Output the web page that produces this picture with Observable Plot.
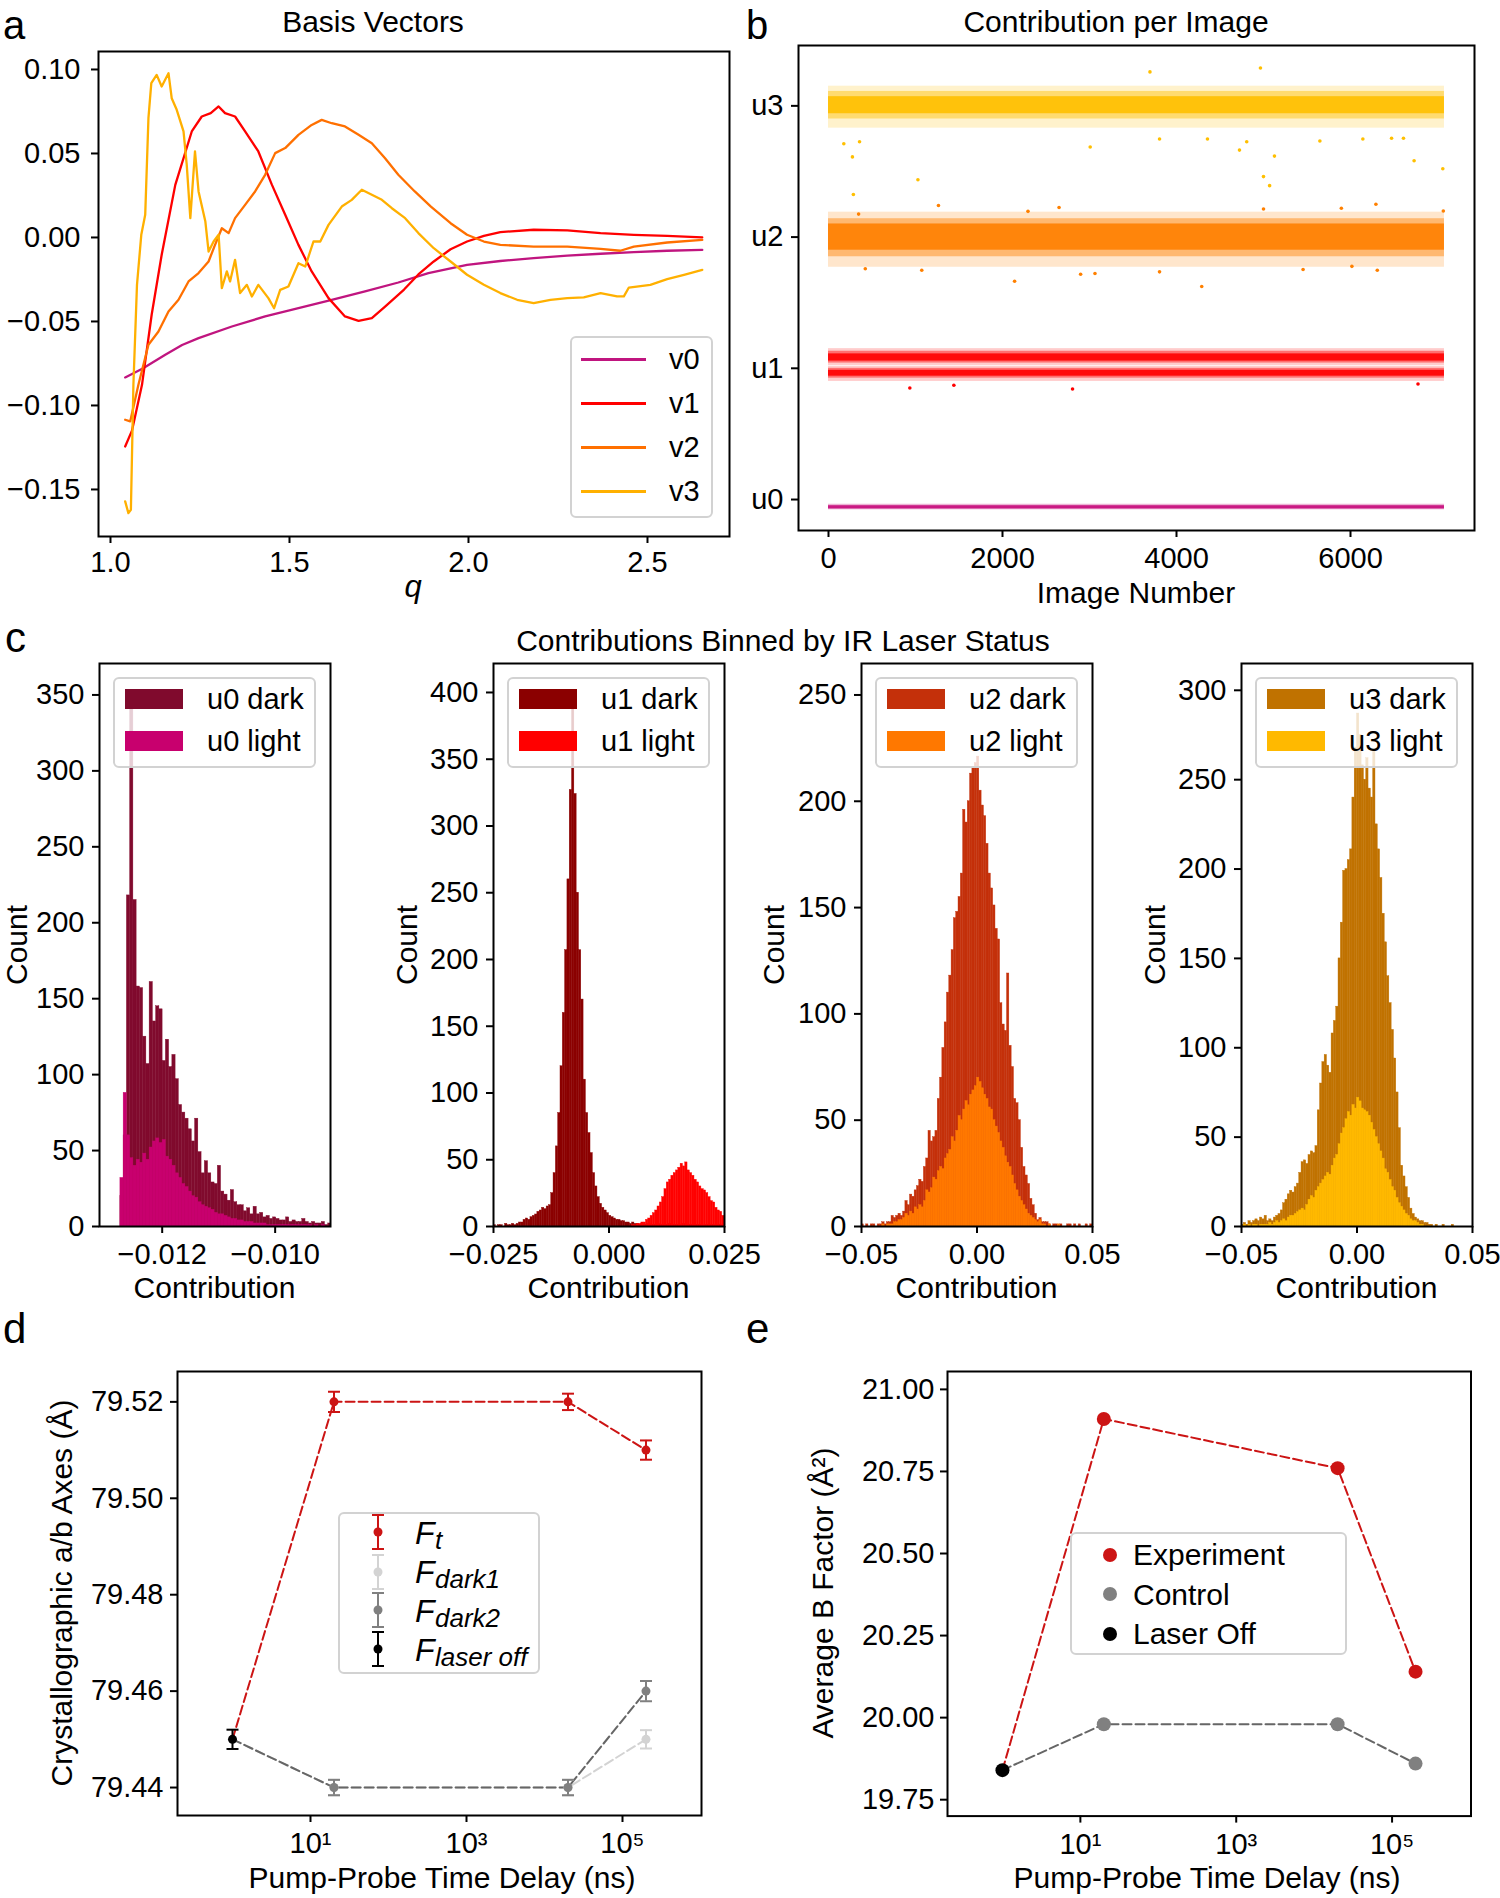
<!DOCTYPE html>
<html><head><meta charset="utf-8">
<script src="https://cdn.jsdelivr.net/npm/d3@7"></script>
<script src="https://cdn.jsdelivr.net/npm/@observablehq/plot@0.6"></script>
<style>
html,body{margin:0;padding:0;background:#fff;}
#fig{position:relative;width:1500px;height:1898px;overflow:hidden;background:#fff;font-family:"Liberation Sans",Arial,Helvetica,sans-serif;color:#000;}
#fig svg{position:absolute;overflow:visible;max-width:none;}
.lg{position:absolute;box-sizing:border-box;border:2px solid #d2d2d2;border-radius:6px;background:rgba(255,255,255,0.8);}
</style></head>
<body><div id="fig"></div>
<script>
// ================= DATA =================
// Panel a: basis vectors (q, value)
const v0Q = [1.041,1.090,1.153,1.200,1.246,1.339,1.432,1.525,1.618,1.711,1.804,1.888,1.996,2.089,2.182,2.276,2.369,2.462,2.555,2.653];
const v0V = [-0.0833,-0.0780,-0.0698,-0.0640,-0.0599,-0.0530,-0.0470,-0.0421,-0.0371,-0.0321,-0.0268,-0.0212,-0.0163,-0.0140,-0.0123,-0.0108,-0.0097,-0.0087,-0.0079,-0.0074];
const v1Q = [1.041,1.060,1.088,1.115,1.143,1.181,1.227,1.255,1.280,1.302,1.320,1.348,1.376,1.413,1.451,1.488,1.525,1.562,1.609,1.655,1.693,1.730,1.767,1.820,1.860,1.903,1.950,1.996,2.043,2.089,2.182,2.276,2.369,2.462,2.555,2.653];
const v1V = [-0.1244,-0.1150,-0.0877,-0.0460,-0.0103,0.0313,0.0631,0.0720,0.0740,0.0780,0.0740,0.0720,0.0631,0.0512,0.0313,0.0135,-0.0044,-0.0202,-0.0361,-0.0470,-0.0496,-0.0480,-0.0411,-0.0310,-0.0220,-0.0143,-0.0070,-0.0024,0.0010,0.0032,0.0046,0.0042,0.0026,0.0016,0.0010,0.0000];
const v2Q = [1.041,1.055,1.078,1.106,1.134,1.162,1.190,1.218,1.246,1.274,1.292,1.311,1.330,1.348,1.376,1.404,1.432,1.460,1.488,1.525,1.562,1.590,1.618,1.655,1.693,1.730,1.767,1.804,1.850,1.895,1.950,1.996,2.043,2.089,2.182,2.276,2.369,2.424,2.462,2.555,2.653];
const v2V = [-0.1085,-0.1095,-0.0877,-0.0639,-0.0560,-0.0441,-0.0371,-0.0262,-0.0212,-0.0143,-0.0044,0.0055,0.0026,0.0115,0.0194,0.0274,0.0373,0.0502,0.0532,0.0611,0.0670,0.0700,0.0680,0.0661,0.0611,0.0561,0.0472,0.0373,0.0274,0.0184,0.0085,0.0016,-0.0024,-0.0044,-0.0054,-0.0054,-0.0068,-0.0079,-0.0054,-0.0030,-0.0014];
const v3Q = [1.041,1.050,1.057,1.064,1.074,1.086,1.097,1.106,1.114,1.129,1.143,1.162,1.171,1.185,1.204,1.213,1.223,1.236,1.246,1.265,1.274,1.288,1.302,1.311,1.325,1.334,1.348,1.362,1.381,1.395,1.413,1.441,1.457,1.474,1.497,1.525,1.544,1.567,1.586,1.609,1.646,1.674,1.702,1.730,1.758,1.786,1.823,1.860,1.903,1.950,1.996,2.043,2.089,2.136,2.182,2.229,2.276,2.322,2.369,2.415,2.434,2.448,2.508,2.555,2.602,2.653];
const v3V = [-0.1571,-0.1641,-0.1621,-0.0877,-0.0282,0.0016,0.0135,0.0710,0.0919,0.0968,0.0899,0.0978,0.0829,0.0760,0.0631,0.0432,0.0115,0.0512,0.0274,0.0095,-0.0084,-0.0024,0.0016,-0.0302,-0.0202,-0.0262,-0.0133,-0.0331,-0.0282,-0.0351,-0.0282,-0.0361,-0.0421,-0.0312,-0.0292,-0.0153,-0.0173,-0.0024,-0.0024,0.0075,0.0184,0.0224,0.0284,0.0254,0.0224,0.0174,0.0115,0.0026,-0.0064,-0.0143,-0.0222,-0.0282,-0.0331,-0.0371,-0.0391,-0.0371,-0.0361,-0.0357,-0.0331,-0.0351,-0.0351,-0.0298,-0.0282,-0.0248,-0.0222,-0.0193];
const aNames = ["v0","v1","v2","v3"];

// Panel b: contribution per image (bands of dense points + individual outliers)
const bTickLabels = ["u0","u1","u2","u3"];
const bBands = ["u0","u1 upper","u1 lower","u2","u3"];
const bImageFirst = 0, bImageLast = 7080;
const bCoreLo   = [-0.070, 1.055, 0.940, 1.900, 2.940];
const bCoreHi   = [-0.048, 1.110, 0.985, 2.100, 3.070];
const bMidLo    = [-0.075, 1.040, 0.925, 1.850, 2.900];
const bMidHi    = [-0.043, 1.130, 1.000, 2.140, 3.110];
const bFringeLo = [-0.080, 1.020, 0.900, 1.770, 2.830];
const bFringeHi = [-0.035, 1.150, 1.015, 2.190, 3.150];
const u3OutX = [3695,4965,176,357,275,286,1028,3008,3805,4356,4724,4807,5000,5070,5126,5648,6142,6472,6609,6731,7061];
const u3OutY = [3.259,3.289,2.711,2.726,2.611,2.325,2.437,2.687,2.747,2.747,2.663,2.726,2.461,2.392,2.617,2.732,2.747,2.753,2.753,2.582,2.521];
const u2OutX = [7067,1264,5000,5895,6292,2139,4290,2898,3063,3805,6308,423,1072,6016,5455,346,2650,2293];
const u2OutY = [2.199,2.241,2.214,2.220,2.250,1.663,1.624,1.717,1.723,1.735,1.747,1.759,1.747,1.777,1.753,2.175,2.226,2.196];
const u1OutX = [935,2805,1441,6776];
const u1OutY = [0.850,0.842,0.871,0.880];

// Panel c: histogram counts
const u0Lo = -0.01274, u0Width = 0.0000575;
const u0Dark = [20,60,218,345,215,158,157,125,107,161,135,145,143,109,123,105,113,97,80,75,71,64,56,71,49,35,43,35,29,28,40,23,21,17,24,16,14,14,10,12,8,13,8,9,6,7,5,6,5,4,4,6,3,4,3,3,5,3,2,3,2,2,3,1,2];
const u0Light = [32,88,60,45,40,44,42,48,44,52,56,58,55,57,46,44,40,35,32,28,26,23,20,19,16,14,13,12,11,9,8,8,7,6,5,5,4,4,3,3,3,2,2,2,2,1,1,1,1,1,1,1,1,1,1,1,1,1,1,0,1,0,1,0,0];
const u1Lo = -0.025, u1Width = 0.0005;
const u1Dark = [1,0,1,1,0,2,1,1,2,1, 2,3,3,5,6,5,7,8,9,11, 12,14,13,15,16, 25,40,60,85,120,160,207,260,327,390, 324,250,207,170,110,85,70,55,40,30, 22,17,14,12,10,8,7,6,5,5, 4,4,3,3,2,3,2,2,1,2, 1,1,2,1,1,1,2,1,1,1,1,2,1,1,1,1,1,2,1,1,1,1,1,1,1,1,0,1,1,1,1,0,1,1,0];
const u1Light = [0,0,0,0,0,0,0,0,0,0, 0,0,0,0,0,0,0,0,0,0, 0,0,0,0,0,0,0,0,0,0, 0,0,0,0,0,0,0,0,0,0, 0,0,0,0,0,0,0,0,0,0, 0,0,0,0,0,0,0,0,0,0, 1,1,2,2,3,3,5,6,8,10, 12,15,18,22,28,33,35,38,40,42, 44,47,45,48,42,40,38,35,33,30, 28,27,25,22,19,18,14,12,11,8];
const u2Lo = -0.05, u2Width = 0.001;
const u2Dark = [1,0,1,0,1,1,0,1,1, 2,1,2,2,5,4,5,6,5,7, 12,10,15,14,17,19,22,21,28,32, 45,40,42,45,60,70,84,96,110,118, 130,145,148,155,166,196,190,200,213,216, 218,221,205,198,193,180,166,159,151,140, 135,105,95,92,119,85,75,60,58,50, 37,28,24,20,13,10,6,3,4,2,2,2, 1,0,1,1,0,1,0,0,1,1,0,1,0,1,0,0,1,0,1];
const u2Light = [0,0,0,0,0,0,0,0,0,1,0,1,1, 1,2,2,3,3,4, 6,5,7,6,9,8,10,9,12,17, 16,18,23,22,26,28,27,32,34,36, 42,40,45,52,50,55,59,57,62,64, 66,70,68,65,62,60,56,55,50,47, 44,40,37,33,30,28,24,20,17,14, 12,10,8,6,5,4,3,2,3,1,1, 0,1,0,0,0,1,0,0,0,0,0,0,0,0,0,0,0,0,0,0];
const u3Lo = -0.05, u3Width = 0.001;
const u3Dark = [1,2,1, 3,2,3,4,3, 5,4,6,3, 4,3,5, 6,7,9,13,15,18,20,19,22,24, 30,36,37,35,40,42,41,45,65,80, 92,96,90,86,108,115,123,150,170,199, 200,205,211,240,268,287,275,258,250,262, 245,240,266,225,211,195,175,159,140,125, 110,94,75,55,34,28,22,16,10,7, 5,4,3,3,2,2, 1,1,0,1,0,0,1,0,0,0,1,0,0,0,0,0,0,0,0];
const u3Light = [0,1,0,1,0,1,1,0,1,1,1,1,2,1,2, 3,2,3,4,3,5,6,6,7,8, 9,10,9,12,15,17,16,20,22,24, 26,28,30,29,34,38,40,46,52,55, 60,64,62,68,66,72,70,66,65,64, 62,58,54,50,46,42,38,32,30,26, 22,20,16,13,11,9,7,6,4,3, 3,2,1,1,0, 0,0,0,0,0,0,0,0,0,0,0,0,0,0,0,0,0,0,0,0];

// Panel d: lattice a/b axes vs delay
const dDelay = [20, 20000, 200000];
const dFt = [79.52, 79.52, 79.51];
const dFtErr = [0.0021, 0.0017, 0.0020];
const dDark1 = [79.44, 79.44, 79.45];
const dDark1Err = [0.0016, 0.0016, 0.0019];
const dDark2 = [79.44, 79.44, 79.46];
const dDark2Err = [0.0016, 0.0016, 0.0021];
const dOffDelay = [1];
const dOff = [79.45];
const dOffErr = [0.0020];

// Panel e: average B factor vs delay
const eDelay = [20, 20000, 200000];
const eExp = [20.91, 20.76, 20.14];
const eCtrl = [19.98, 19.98, 19.86];
const eOffDelay = [1];
const eOff = [19.84];

// ================= STYLE =================
const FONT = "'Liberation Sans', Arial, Helvetica, sans-serif";
const aColors = ["#c0157f","#ff0000","#ff7000","#ffb000"];
const bColors = ["#c8107e","#ff0000","#ff0000","#ff8000","#ffbf00"];
const cDark = ["#800a2d","#8b0000","#c4300a","#c07200"];
const cLight = ["#c8006e","#ff0000","#ff7800","#ffb900"];
const RED = "#cc1414", GRAY = "#808080", DGRAY = "#666666", LGRAY = "#d3d3d3";

const fig = document.getElementById("fig");
const PAD = {l:140, r:30, t:30, b:70};
function makePlot([L,T,R,B], x, y, marks) {
  const svg = Plot.plot({
    width: (R-L)+PAD.l+PAD.r, height: (B-T)+PAD.t+PAD.b,
    marginLeft: PAD.l, marginRight: PAD.r, marginTop: PAD.t, marginBottom: PAD.b,
    x, y,
    style: {fontSize:"29px", fontFamily: FONT, background:"transparent", color:"#000", overflow:"visible"},
    marks
  });
  svg.style.left = (L-PAD.l)+"px"; svg.style.top = (T-PAD.t)+"px";
  fig.appendChild(svg);
}
function axX(ticks, fmt, pad=9) { return Plot.axisX({ticks, tickFormat: fmt, tickSize:7, tickPadding:pad, strokeWidth:2, fontSize:29, label:null, anchor:"bottom"}); }
function axY(ticks, fmt, pad=8) { return Plot.axisY({ticks, tickFormat: fmt, tickSize:7, tickPadding:pad, strokeWidth:2, fontSize:29, label:null, anchor:"left"}); }
const frame = () => Plot.frame({stroke:"#000", strokeWidth:2});

function textAt(html, x, base, {size=30, anchor="middle", italic=false}={}) {
  const d = document.createElement("div");
  d.style.cssText = `position:absolute;white-space:nowrap;line-height:1;font-size:${size}px;left:${x}px;top:${base-0.8465*size}px;` + (italic?"font-style:italic;":"");
  if (anchor==="middle") d.style.transform = "translateX(-50%)";
  else if (anchor==="end") d.style.transform = "translateX(-100%)";
  d.innerHTML = html; fig.appendChild(d); return d;
}
function vText(html, cx, cy, size=30) {
  const d = document.createElement("div");
  d.style.cssText = `position:absolute;white-space:nowrap;line-height:1;font-size:${size}px;left:${cx}px;top:${cy}px;transform:translate(-50%,-50%) rotate(-90deg);`;
  d.innerHTML = html; fig.appendChild(d);
}
function box(l,t,r,b) { const d=document.createElement("div"); d.className="lg"; d.style.left=l+"px"; d.style.top=t+"px"; d.style.width=(r-l)+"px"; d.style.height=(b-t)+"px"; fig.appendChild(d); }
function swatch(l,t,w,h,color) { const d=document.createElement("div"); d.style.cssText=`position:absolute;left:${l}px;top:${t}px;width:${w}px;height:${h}px;background:${color};`; fig.appendChild(d); }

// ================= PANEL a =================
const aQ = [v0Q,v1Q,v2Q,v3Q], aV = [v0V,v1V,v2V,v3V];
const aRows = aNames.map((n,k) => aQ[k].map((q,i) => ({name:n, q, v:aV[k][i]})));
makePlot([98,51,729,536],
  {domain:[0.9665, 2.7291]},
  {domain:[-0.178, 0.1107]},
  [
    ...aRows.map((rows,k) => Plot.line(rows, {x:"q", y:"v", stroke:aColors[k], strokeWidth:2.3, clip:true})),
    frame(),
    axX([1.0,1.5,2.0,2.5], d3.format(".1f"), 8),
    axY([-0.15,-0.10,-0.05,0,0.05,0.10], d3.format(".2f"), 11)
  ]);
textAt("a", 3, 39, {size:40, anchor:"start"});
textAt("Basis Vectors", 373, 32, {size:30});
textAt("q", 413, 597, {size:31, italic:true});
box(570,336,713,518);
aNames.forEach((n,k) => {
  const row = [359,403,447,491][k];
  swatch(581,row-1.5,65,3,aColors[k]);
  textAt(n, 669, row+10.5, {size:29, anchor:"start"});
});

// ================= PANEL b =================
const bRows = bBands.map((s,i) => ({s, c:bColors[i], core:[bCoreLo[i],bCoreHi[i]], mid:[bMidLo[i],bMidHi[i]], fr:[bFringeLo[i],bFringeHi[i]]}));
const outRows = [
  ...u3OutX.map((x,i)=>({x, y:u3OutY[i], c:bColors[4]})),
  ...u2OutX.map((x,i)=>({x, y:u2OutY[i], c:bColors[3]})),
  ...u1OutX.map((x,i)=>({x, y:u1OutY[i], c:bColors[1]}))
];
const bandMark = (key, op) => bRows.map(r => Plot.rect([r], {x1:()=>bImageFirst, x2:()=>bImageLast, y1:d=>d[key][0], y2:d=>d[key][1], fill:r.c, fillOpacity:op}));
makePlot([798,45,1474,530],
  {domain:[-344.8, 7425.3]},
  {domain:[-0.236, 3.46]},
  [
    ...bandMark("fr", 0.2),
    ...bandMark("mid", 0.45),
    ...bandMark("core", 0.9),
    ...outRows.map(r => Plot.dot([r], {x:"x", y:"y", r:1.8, fill:r.c})),
    frame(),
    axX([0,2000,4000,6000], d3.format("d"), 10),
    axY([0,1,2,3], i => bTickLabels[i], 8)
  ]);
textAt("b", 746, 39, {size:40, anchor:"start"});
textAt("Contribution per Image", 1116, 32, {size:30});
textAt("Image Number", 1136, 603, {size:30});

// ================= PANEL c =================
function hist(lo, w, counts) { return counts.map((c,i) => ({x1: lo+i*w, x2: lo+(i+1)*w, y: c})); }
const cPanels = [
  {frame:[99,663,330,1226], xd:[-0.01311,-0.00902], yd:[0,370.7], xt:[-0.012,-0.010], xf:".3f", yt:[0,50,100,150,200,250,300,350], dark:hist(u0Lo,u0Width,u0Dark), light:hist(u0Lo,u0Width,u0Light), name:"u0"},
  {frame:[493,663,724,1226], xd:[-0.025,0.025], yd:[0,421.7], xt:[-0.025,0,0.025], xf:".3f", yt:[0,50,100,150,200,250,300,350,400], dark:hist(u1Lo,u1Width,u1Dark), light:hist(u1Lo,u1Width,u1Light), name:"u1"},
  {frame:[861,663,1092,1226], xd:[-0.05,0.05], yd:[0,264.8], xt:[-0.05,0,0.05], xf:".2f", yt:[0,50,100,150,200,250], dark:hist(u2Lo,u2Width,u2Dark), light:hist(u2Lo,u2Width,u2Light), name:"u2"},
  {frame:[1241,663,1472,1226], xd:[-0.05,0.05], yd:[0,315], xt:[-0.05,0,0.05], xf:".2f", yt:[0,50,100,150,200,250,300], dark:hist(u3Lo,u3Width,u3Dark), light:hist(u3Lo,u3Width,u3Light), name:"u3"}
];
const countX = [17, 407, 774, 1155];
cPanels.forEach((p,k) => {
  makePlot(p.frame, {domain:p.xd}, {domain:p.yd}, [
    Plot.rectY(p.dark, {x1:"x1", x2:"x2", y:"y", fill:cDark[k], stroke:cDark[k], strokeWidth:0.4, clip:true}),
    Plot.rectY(p.light, {x1:"x1", x2:"x2", y:"y", fill:cLight[k], stroke:cLight[k], strokeWidth:0.4, clip:true}),
    frame(),
    axX(p.xt, d3.format(p.xf), 10),
    axY(p.yt, d3.format("d"), 8)
  ]);
  const L = p.frame[0], R = p.frame[2];
  box(L+14, 677, L+217, 768);
  swatch(L+26, 689, 58, 20, cDark[k]);
  swatch(L+26, 731, 58, 20, cLight[k]);
  textAt(p.name+" dark", L+108, 709.8, {size:29, anchor:"start"});
  textAt(p.name+" light", L+108, 751.8, {size:29, anchor:"start"});
  textAt("Contribution", (L+R)/2, 1298, {size:30});
  vText("Count", countX[k], 945, 30);
});
textAt("c", 5, 653, {size:42, anchor:"start"});
textAt("Contributions Binned by IR Laser Status", 783, 651, {size:30});

// ================= PANEL d =================
const sup = {10:"10¹", 1000:"10³", 100000:"10⁵"};
const capSym = {draw(ctx){ ctx.moveTo(-6,0); ctx.lineTo(6,0); }};
function errRows(xs, ys, es) { return xs.map((x,i)=>({x, y:ys[i], e:es[i]})); }
function errMarks(rows, color, r) {
  return [
    Plot.ruleX(rows, {x:"x", y1:d=>d.y-d.e, y2:d=>d.y+d.e, stroke:color, strokeWidth:2}),
    Plot.dot(rows, {x:"x", y:d=>d.y+d.e, symbol:capSym, stroke:color, strokeWidth:2, fill:"none"}),
    Plot.dot(rows, {x:"x", y:d=>d.y-d.e, symbol:capSym, stroke:color, strokeWidth:2, fill:"none"}),
    Plot.dot(rows, {x:"x", y:"y", r, fill:color})
  ];
}
const offRowD = errRows(dOffDelay, dOff, dOffErr);
const ftRows = errRows(dDelay, dFt, dFtErr);
const d1Rows = errRows(dDelay, dDark1, dDark1Err);
const d2Rows = errRows(dDelay, dDark2, dDark2Err);
const dash = "9,4";
makePlot([177,1371,701,1815],
  {type:"log", domain:[0.1972, 1.03e6]},
  {domain:[79.4342, 79.5263]},
  [
    Plot.line([...offRowD, ...d1Rows], {x:"x", y:"y", stroke:LGRAY, strokeWidth:2, strokeDasharray:dash}),
    Plot.line([...offRowD, ...d2Rows], {x:"x", y:"y", stroke:DGRAY, strokeWidth:2, strokeDasharray:dash}),
    Plot.line([...offRowD, ...ftRows], {x:"x", y:"y", stroke:RED, strokeWidth:2, strokeDasharray:dash}),
    ...errMarks(d1Rows, LGRAY, 4.5),
    ...errMarks(d2Rows, GRAY, 4.5),
    ...errMarks(ftRows, RED, 4.5),
    ...errMarks(offRowD, "#000", 4.5),
    frame(),
    axX([10,1000,100000], d => sup[d], 10),
    axY([79.44,79.46,79.48,79.50,79.52], d3.format(".2f"), 7)
  ]);
textAt("d", 3, 1344, {size:42, anchor:"start"});
vText("Crystallographic a/b Axes (Å)", 62, 1593, 30);
textAt("Pump-Probe Time Delay (ns)", 442, 1888, {size:30});
box(338,1512,540,1674);
const dLeg = [["t",RED],["dark1",LGRAY],["dark2",GRAY],["laser off","#000"]];
[1532,1571.5,1609.7,1648.6].forEach((row,k) => {
  const [sub,color] = dLeg[k];
  const s = document.createElementNS("http://www.w3.org/2000/svg","svg");
  s.setAttribute("width","20"); s.setAttribute("height","40");
  s.style.left = (377.5-10)+"px"; s.style.top = (row-20)+"px";
  s.innerHTML = `<line x1="10" x2="10" y1="3" y2="37" stroke="${color}" stroke-width="2"/><line x1="4" x2="16" y1="3" y2="3" stroke="${color}" stroke-width="2"/><line x1="4" x2="16" y1="37" y2="37" stroke="${color}" stroke-width="2"/><circle cx="10" cy="20" r="4.5" fill="${color}"/>`;
  fig.appendChild(s);
  textAt("F", 415, row+12, {size:32, anchor:"start", italic:true});
  textAt(sub, 435, row+17, {size:26, anchor:"start", italic:true});
});

// ================= PANEL e =================
const eOffRows = eOffDelay.map((x,i)=>({x, y:eOff[i]}));
const eExpRows = eDelay.map((x,i)=>({x, y:eExp[i]}));
const eCtrlRows = eDelay.map((x,i)=>({x, y:eCtrl[i]}));
makePlot([947,1371,1470.5,1815.6],
  {type:"log", domain:[0.1972, 1.03e6]},
  {domain:[19.70, 21.0545]},
  [
    Plot.line([...eOffRows, ...eCtrlRows], {x:"x", y:"y", stroke:DGRAY, strokeWidth:2, strokeDasharray:dash}),
    Plot.line([...eOffRows, ...eExpRows], {x:"x", y:"y", stroke:RED, strokeWidth:2, strokeDasharray:dash}),
    Plot.dot(eCtrlRows, {x:"x", y:"y", r:7, fill:GRAY}),
    Plot.dot(eExpRows, {x:"x", y:"y", r:7, fill:RED}),
    Plot.dot(eOffRows, {x:"x", y:"y", r:7, fill:"#000"}),
    frame(),
    axX([10,1000,100000], d => sup[d], 10),
    axY([19.75,20.00,20.25,20.50,20.75,21.00], d3.format(".2f"), 6)
  ]);
textAt("e", 746, 1344, {size:42, anchor:"start"});
vText("Average B Factor (Å²)", 823, 1593, 30);
textAt("Pump-Probe Time Delay (ns)", 1207, 1888, {size:30});
box(1070,1532,1347,1655);
[["Experiment",RED,1554.8],["Control",GRAY,1594.4],["Laser Off","#000",1633.7]].forEach(([t,c,row]) => {
  const d = document.createElement("div");
  d.style.cssText = `position:absolute;left:${1110-7}px;top:${row-7}px;width:14px;height:14px;border-radius:50%;background:${c};`;
  fig.appendChild(d);
  textAt(t, 1133, row+10.5, {size:30, anchor:"start"});
});
</script>
</body></html>
